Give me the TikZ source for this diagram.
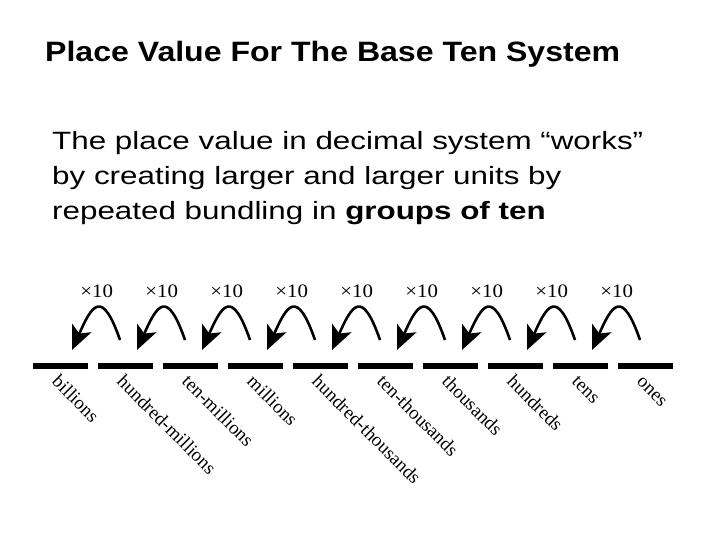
\documentclass[tikz,border=0pt]{standalone}
\usepackage{fontspec}
\usepackage{graphicx}
\setmainfont{Liberation Sans}
\newfontfamily\serifface{Liberation Serif}
\usetikzlibrary{arrows.meta}
\newcommand{\wide}[2]{\scalebox{#1}[1]{#2}}
\begin{document}
\begin{tikzpicture}[x=1pt, y=-1pt,
	slot/.style={fill=black, minimum width=55.5pt, minimum height=6.5pt, inner sep=0pt, outer sep=0pt},
	place/.style={rotate=-45, anchor=north west, inner sep=0pt, text height=1.45ex, text depth=.3ex, font=\serifface\fontsize{19}{19}\selectfont},
	times/.style={line width=2.6pt, -{Stealth[length=24pt, width=21pt, inset=6pt]}},
	factor/.style={inner sep=0pt, font=\serifface\fontsize{19}{19}\selectfont},
	bodyline/.style={anchor=base west, inner sep=0pt, font=\fontsize{25}{30}\selectfont}]
%			\draw[help lines] (0,0) grid[step=20] (720,540);
			\useasboundingbox (0,0) rectangle (720,540);
			\node[anchor=base west, inner sep=0pt, font=\bfseries\fontsize{28}{32}\selectfont] (title) at (45,62) {\wide{1.145}{Place Value For The Base Ten System}};
			\node[bodyline] (line1) at (52,150) {\wide{1.255}{The place value in decimal system “works”}};
			\node[bodyline] (line2) at (52,185) {\wide{1.255}{by creating larger and larger units by}};
			\node[bodyline] (line3) at (52,220) {\wide{1.255}{repeated bundling in \textbf{groups of ten}}};
			% the ten places
			\node[slot] (s1) at (60.5,366) {};
			\node[slot] (s2) at (125.5,366) {};
			\node[slot] (s3) at (190.5,366) {};
			\node[slot] (s4) at (255.5,366) {};
			\node[slot] (s5) at (320.5,366) {};
			\node[slot] (s6) at (385.5,366) {};
			\node[slot] (s7) at (450.5,366) {};
			\node[slot] (s8) at (515.5,366) {};
			\node[slot] (s9) at (580.5,366) {};
			\node[slot] (s10) at (645.5,366) {};
			\node[place] (n1) at ([xshift=-4pt, yshift=-8pt]s1.south) {billions};
			\node[place] (n2) at ([xshift=-4pt, yshift=-8pt]s2.south) {hundred-millions};
			\node[place] (n3) at ([xshift=-4pt, yshift=-8pt]s3.south) {ten-millions};
			\node[place] (n4) at ([xshift=-4pt, yshift=-8pt]s4.south) {millions};
			\node[place] (n5) at ([xshift=-4pt, yshift=-8pt]s5.south) {hundred-thousands};
			\node[place] (n6) at ([xshift=-4pt, yshift=-8pt]s6.south) {ten-thousands};
			\node[place] (n7) at ([xshift=-4pt, yshift=-8pt]s7.south) {thousands};
			\node[place] (n8) at ([xshift=-4pt, yshift=-8pt]s8.south) {hundreds};
			\node[place] (n9) at ([xshift=-4pt, yshift=-8pt]s9.south) {tens};
			\node[place] (n10) at ([xshift=-4pt, yshift=-8pt]s10.south) {ones};
			% arc ends above the places
			\coordinate (r1) at (120,340); \coordinate (t1) at (72,350);
			\coordinate (r2) at (185,340); \coordinate (t2) at (137,350);
			\coordinate (r3) at (250,340); \coordinate (t3) at (202,350);
			\coordinate (r4) at (315,340); \coordinate (t4) at (267,350);
			\coordinate (r5) at (380,340); \coordinate (t5) at (332,350);
			\coordinate (r6) at (445,340); \coordinate (t6) at (397,350);
			\coordinate (r7) at (510,340); \coordinate (t7) at (462,350);
			\coordinate (r8) at (575,340); \coordinate (t8) at (527,350);
			\coordinate (r9) at (640,340); \coordinate (t9) at (592,350);
			\draw[times] (r1) .. controls +(-18,-52) and +(20,-45) .. node[factor, above=10pt] {\wide{1.1}{×10}} (t1);
			\draw[times] (r2) .. controls +(-18,-52) and +(20,-45) .. node[factor, above=10pt] {\wide{1.1}{×10}} (t2);
			\draw[times] (r3) .. controls +(-18,-52) and +(20,-45) .. node[factor, above=10pt] {\wide{1.1}{×10}} (t3);
			\draw[times] (r4) .. controls +(-18,-52) and +(20,-45) .. node[factor, above=10pt] {\wide{1.1}{×10}} (t4);
			\draw[times] (r5) .. controls +(-18,-52) and +(20,-45) .. node[factor, above=10pt] {\wide{1.1}{×10}} (t5);
			\draw[times] (r6) .. controls +(-18,-52) and +(20,-45) .. node[factor, above=10pt] {\wide{1.1}{×10}} (t6);
			\draw[times] (r7) .. controls +(-18,-52) and +(20,-45) .. node[factor, above=10pt] {\wide{1.1}{×10}} (t7);
			\draw[times] (r8) .. controls +(-18,-52) and +(20,-45) .. node[factor, above=10pt] {\wide{1.1}{×10}} (t8);
			\draw[times] (r9) .. controls +(-18,-52) and +(20,-45) .. node[factor, above=10pt] {\wide{1.1}{×10}} (t9);
\end{tikzpicture}
\end{document}
